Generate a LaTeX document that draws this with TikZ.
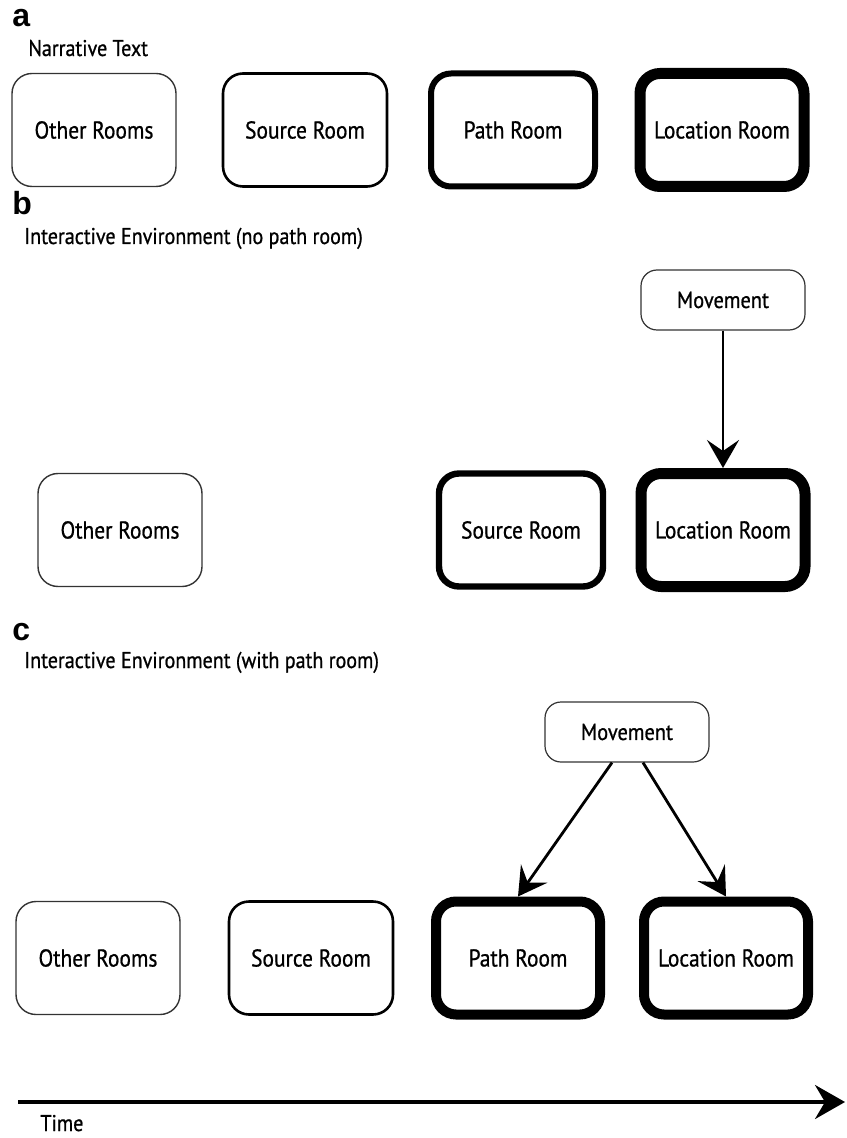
\documentclass[tikz,border=0pt]{standalone}
\usepackage{fontspec}
\setmainfont{PT Sans}[FakeStretch=0.88, FakeBold=0.8]
\newfontfamily\labelfont{Liberation Sans}
\usetikzlibrary{positioning,arrows.meta}

\begin{document}
\begin{tikzpicture}[
  x=0.5pt, y=-0.5pt,
  room/.style      = {draw, rounded corners=10pt,
                      minimum width=82pt, minimum height=56.5pt,
                      align=center, inner sep=0pt,
                      font=\fontsize{12.2}{14}\selectfont},
  thinroom/.style  = {room, line width=0.7pt, draw=black!80},
  medroom/.style   = {room, line width=1.3pt},
  thickroom/.style = {room, line width=3pt},
  heavyroom/.style = {room, line width=5.5pt},
  movebox/.style   = {draw, rounded corners=8pt, line width=0.6pt,
                      draw=black!80, minimum width=82pt, minimum height=30pt,
                      inner sep=0pt, font=\fontsize{11.6}{14}\selectfont},
  arr/.style       = {-{Stealth[length=14pt, width=16pt, inset=5.5pt]}, line width=1.4pt},
  timearr/.style   = {-{Stealth[length=15pt, width=17pt, inset=5pt]}, line width=1.7pt},
  panel/.style     = {anchor=base west, inner sep=0pt,
                      font={\labelfont\bfseries\fontsize{16}{18}\selectfont}},
  head/.style      = {anchor=base west, inner sep=0pt,
                      font=\fontsize{11.4}{13}\selectfont},
]
\useasboundingbox (0,0) rectangle (846,1138);

% a: narrative text
\node[panel]     (labA)    at (12,27)   {a};
\node[head]      (headA)   at (28,56)   {Narrative Text};
\node[thinroom]  (otherA)  at (94,130)  {Other Rooms};
\node[medroom]   (sourceA) at (305,130) {Source Room};
\node[thickroom] (pathA)   at (513,130) {Path Room};
\node[heavyroom] (locA)    at (722,130) {Location Room};

% b: interactive, no path room
\node[panel]     (labB)    at (12,215)  {b};
\node[head]      (headB)   at (24,244)  {Interactive Environment (no path room)};
\node[thinroom]  (otherB)  at (120,530) {Other Rooms};
\node[heavyroom, line width=3.2pt] (sourceB) at (521,530) {Source Room};
\node[heavyroom] (locB)    at (723,530) {Location Room};
\node[movebox]   (moveB)   at (723,300) {Movement};
\draw[arr] (moveB.south) -- (locB.north);

% c: interactive, with path room
\node[panel]     (labC)    at (12,640)  {c};
\node[head]      (headC)   at (24,668)  {Interactive Environment (with path room)};
\node[thinroom]  (otherC)  at (98,958)  {Other Rooms};
\node[medroom]   (sourceC) at (311,958) {Source Room};
\node[heavyroom, line width=5pt] (pathC) at (518,958) {Path Room};
\node[heavyroom, line width=5pt] (locC)  at (726,958) {Location Room};
\node[movebox]   (moveC)   at (627,732) {Movement};
\draw[arr] ([xshift=-7.5pt]moveC.south) -- (pathC.north);
\draw[arr] ([xshift=8pt]moveC.south)    -- (locC.north);

% time axis
\coordinate (t0) at (18,1102);
\coordinate (t1) at (845,1102);
\draw[timearr] (t0) -- (t1);
\node[head] (timeLbl) at (40,1131) {Time};
\end{tikzpicture}
\end{document}
